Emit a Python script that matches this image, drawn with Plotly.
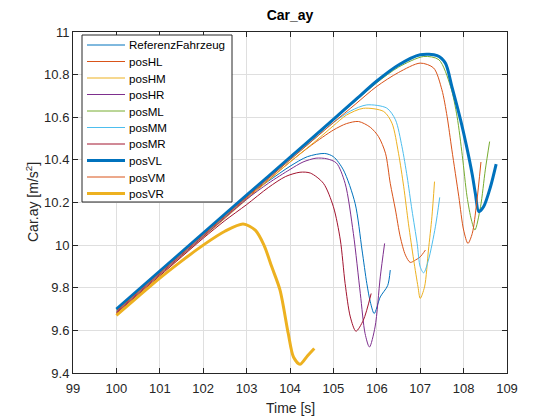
import plotly.graph_objects as go

# MATLAB default colour order
BLUE = '#0072BD'
ORANGE = '#D95319'
YELLOW = '#EDB120'
PURPLE = '#7E2F8E'
GREEN = '#77AC30'
LIGHTBLUE = '#4DBEEE'
DARKRED = '#A2142F'

# values (time [s], Car.ay [m/s^2])
ref_t = [100, 101, 102, 103, 103.5, 104, 104.4, 104.8, 105.0, 105.23, 105.5,
         105.66, 105.77, 105.85, 105.94, 106.08, 106.25, 106.31]
ref_y = [9.70, 9.878, 10.056, 10.232, 10.30, 10.37, 10.415, 10.43, 10.415, 10.353, 10.196,
         9.977, 9.82, 9.734, 9.679, 9.757, 9.81, 9.883]

hl_t = [100, 101, 102, 103, 104, 104.5, 105.0, 105.3, 105.58, 105.85, 106.04, 106.2,
        106.31, 106.43, 106.54, 106.66, 106.77, 106.89, 107.0, 107.12]
hl_y = [9.685, 9.863, 10.041, 10.219, 10.39, 10.47, 10.54, 10.57, 10.58, 10.553, 10.509, 10.431,
        10.29, 10.165, 10.039, 9.953, 9.919, 9.93, 9.945, 9.977]

hm_t = [100, 101, 102, 103, 104, 104.6, 105.0, 105.3, 105.69, 106.16, 106.35, 106.50,
        106.62, 106.73, 106.85, 106.95, 107.0, 107.1, 107.19, 107.27, 107.33]
hm_y = [9.68, 9.858, 10.036, 10.214, 10.39, 10.49, 10.56, 10.61, 10.642, 10.627, 10.572, 10.431,
        10.274, 10.10, 9.93, 9.804, 9.75, 9.804, 9.977, 10.133, 10.298]

hr_t = [100, 101, 102, 103, 103.5, 104, 104.3, 104.6, 104.85, 105.07, 105.27, 105.46,
        105.62, 105.73, 105.83, 105.96, 106.08, 106.18]
hr_y = [9.685, 9.863, 10.04, 10.215, 10.29, 10.355, 10.39, 10.408, 10.405, 10.385, 10.29, 10.055,
        9.773, 9.585, 9.522, 9.616, 9.851, 10.008]

ml_t = [100, 101, 102, 103, 104, 105, 105.5, 106, 106.5, 107.08, 107.43, 107.70, 107.85,
        107.97, 108.08, 108.18, 108.26, 108.39, 108.5, 108.6]
ml_y = [9.695, 9.873, 10.051, 10.229, 10.407, 10.585, 10.675, 10.762, 10.835, 10.885, 10.87, 10.744, 10.603,
        10.42, 10.227, 10.118, 10.071, 10.18, 10.353, 10.486]

mm_t = [100, 101, 102, 103, 104, 104.6, 105.0, 105.4, 105.77, 106.23, 106.43, 106.58,
        106.70, 106.81, 106.93, 107.0, 107.08, 107.19, 107.35, 107.45]
mm_y = [9.69, 9.868, 10.046, 10.224, 10.40, 10.505, 10.575, 10.63, 10.658, 10.643, 10.588, 10.462,
        10.32, 10.165, 10.008, 9.898, 9.87, 9.93, 10.086, 10.224]

mr_t = [100, 101, 102, 102.5, 103, 103.5, 103.9, 104.23, 104.47, 104.77, 105.0, 105.16,
        105.27, 105.39, 105.52, 105.69, 105.87]
mr_y = [9.68, 9.856, 10.032, 10.115, 10.19, 10.27, 10.322, 10.342, 10.338, 10.29, 10.18, 10.024,
        9.82, 9.663, 9.596, 9.648, 9.773]

vl_t = [100, 101, 102, 103, 104, 105, 105.5, 106, 106.5, 107, 107.39, 107.58, 107.73,
        107.93, 108.07, 108.2, 108.27, 108.35, 108.46, 108.62, 108.75]
vl_y = [9.70, 9.878, 10.056, 10.234, 10.412, 10.59, 10.68, 10.77, 10.845, 10.893, 10.889, 10.854, 10.744,
        10.588, 10.462, 10.33, 10.243, 10.157, 10.18, 10.274, 10.38]

vm_t = [100, 101, 102, 103, 104, 105, 105.5, 106, 106.5, 107.0, 107.31, 107.5, 107.62,
        107.73, 107.89, 108.0, 108.1, 108.2, 108.3, 108.4]
vm_y = [9.69, 9.868, 10.046, 10.224, 10.40, 10.575, 10.66, 10.745, 10.81, 10.854, 10.831, 10.729, 10.603,
        10.447, 10.227, 10.071, 10.008, 10.055, 10.196, 10.39]

vr_t = [100, 100.5, 101, 101.5, 102, 102.5, 102.92, 103.2, 103.4, 103.58, 103.77, 103.96,
        104.08, 104.23, 104.4, 104.56]
vr_y = [9.67, 9.758, 9.845, 9.925, 10.0, 10.065, 10.099, 10.07, 10.0, 9.898, 9.789, 9.585,
        9.475, 9.441, 9.48, 9.515]

series = [
    ('ReferenzFahrzeug', ref_t, ref_y, BLUE, 1),
    ('posHL', hl_t, hl_y, ORANGE, 1),
    ('posHM', hm_t, hm_y, YELLOW, 1),
    ('posHR', hr_t, hr_y, PURPLE, 1),
    ('posML', ml_t, ml_y, GREEN, 1),
    ('posMM', mm_t, mm_y, LIGHTBLUE, 1),
    ('posMR', mr_t, mr_y, DARKRED, 1),
    ('posVL', vl_t, vl_y, BLUE, 3),
    ('posVM', vm_t, vm_y, ORANGE, 1),
    ('posVR', vr_t, vr_y, YELLOW, 3),
]

# page body has an 8px margin, so the figure is a bit smaller than the window
OFF = 8
W, H = 560 - OFF, 420 - OFF
ML, MT, PW, PH = 65, 24, 434, 341
MR, MB = W - ML - PW, H - MT - PH


def win2paper(wx, wy):
    # window pixel -> paper coordinates of the plot area
    return ((wx - OFF) - ML) / PW, 1 - ((wy - OFF) - MT) / PH


fig = go.Figure()
for name, t, y, col, w in series:
    fig.add_trace(go.Scatter(
        x=t, y=y, name=name, mode='lines', showlegend=False,
        line=dict(color=col, width=w, shape='spline', smoothing=0.8),
    ))

FONT = 'Liberation Sans'
axcol = '#262626'

# MATLAB style legend box (plotly's own legend rows are too tall)
shapes = []
annots = []
x0, y0 = win2paper(82, 35)
x1, y1 = win2paper(232, 202)
shapes.append(dict(type='rect', xref='paper', yref='paper', x0=x0, y0=y0, x1=x1, y1=y1,
                   line=dict(color=axcol, width=1), fillcolor='white', layer='above'))
for i, (name, t, y, col, w) in enumerate(series):
    row = 45 + 16.5 * i
    lx0, ly = win2paper(87, row)
    lx1, _ = win2paper(125, row)
    shapes.append(dict(type='line', xref='paper', yref='paper', x0=lx0, x1=lx1, y0=ly, y1=ly,
                       line=dict(color=col, width=w), layer='above'))
    tx, _ = win2paper(127, row)
    annots.append(dict(text=name, xref='paper', yref='paper', x=tx, y=ly,
                       xanchor='left', yanchor='middle', showarrow=False,
                       font=dict(family=FONT, size=11.6, color='black')))

# axis labels
xl, yl = win2paper(290, 408)
annots.append(dict(text='Time [s]', xref='paper', yref='paper', x=xl, y=yl,
                   xanchor='center', yanchor='middle', showarrow=False,
                   font=dict(family=FONT, size=14, color=axcol)))
xl, yl = win2paper(32, 202)
annots.append(dict(text='Car.ay [m/s<sup>2</sup>]', xref='paper', yref='paper', x=xl, y=yl,
                   xanchor='center', yanchor='middle', showarrow=False, textangle=-90,
                   font=dict(family=FONT, size=14, color=axcol)))

axis_style = dict(
    showline=True, linecolor=axcol, linewidth=1, mirror='ticks',
    ticks='inside', ticklen=5, tickcolor=axcol, tickwidth=1,
    showgrid=True, gridcolor='#dfdfdf', gridwidth=1, zeroline=False, automargin=False,
    tickfont=dict(family=FONT, size=13, color=axcol),
)

fig.update_xaxes(range=[99, 109], dtick=1, tick0=99, ticklabelstandoff=3, **axis_style)
fig.update_yaxes(range=[9.4, 11], dtick=0.2, tick0=9.4, **axis_style)

fig.update_layout(
    width=W, height=H,
    margin=dict(l=ML, r=MR, t=MT, b=MB, autoexpand=False),
    paper_bgcolor='white', plot_bgcolor='white',
    title=dict(text='<b>Car_ay</b>', x=0.5, xref='paper', xanchor='center',
               y=1 - (15 - OFF) / H, yanchor='middle',
               font=dict(family=FONT, size=14, color='black')),
    shapes=shapes, annotations=annots,
    showlegend=False,
)

fig.write_html("out.html")
